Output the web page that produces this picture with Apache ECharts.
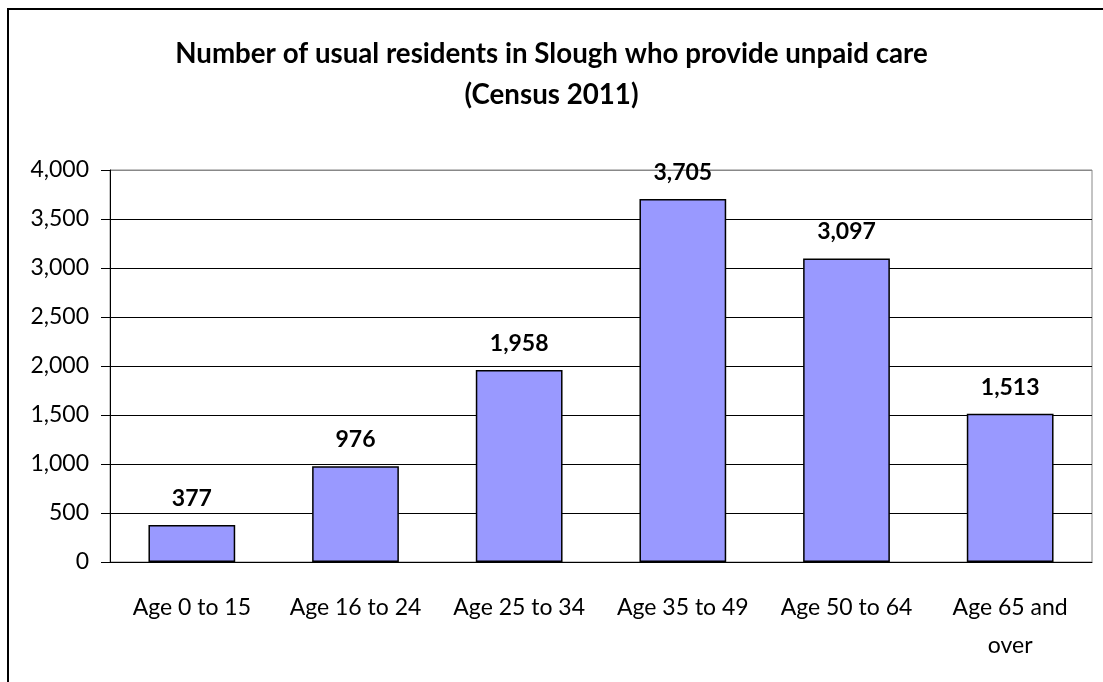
<!DOCTYPE html>
<html>
<head>
<meta charset="utf-8">
<script src="https://cdn.jsdelivr.net/npm/echarts@6/dist/echarts.min.js"></script>
<style>
html, body { margin: 0; padding: 0; background: #fff; }
#main { width: 1103px; height: 682px; }
</style>
</head>
<body>
<div id="main"></div>
<script>
var categories = ['Age 0 to 15', 'Age 16 to 24', 'Age 25 to 34', 'Age 35 to 49', 'Age 50 to 64', 'Age 65 and\nover'];
var carers = [377, 976, 1958, 3705, 3097, 1513];
var yTicks = [0, 500, 1000, 1500, 2000, 2500, 3000, 3500, 4000];

var font = 'Lato, "Open Sans", sans-serif';

var e = document.getElementById('main');
var myChart = echarts.init(e);
myChart.setOption({
	animation : false,
	textStyle : { fontFamily : font },
	graphic : [ {
		type : 'rect',
		shape : { x : 8, y : 9, width : 1200, height : 800 },
		style : { fill : 'none', stroke : '#000', lineWidth : 2 }
	} ],
	title : {
		text : 'Number of usual residents in Slough who provide unpaid care\n(Census 2011)',
		left : 'center',
		top : 29,
		textStyle : {
			fontFamily : font,
			fontSize : 27.7,
			fontWeight : 'bold',
			color : '#000',
			lineHeight : 41
		}
	},
	grid : {
		left : 110,
		right : 11,
		top : 170,
		bottom : 120,
		show : true,
		borderColor : '#888',
		borderWidth : 1
	},
	xAxis : {
		type : 'category',
		data : categories,
		axisLine : { lineStyle : { color : '#000', width : 1 } },
		axisTick : { length : 8, lineStyle : { color : '#000' } },
		axisLabel : {
			color : '#000',
			fontSize : 23,
			margin : 27,
			lineHeight : 38,
			interval : 0
		}
	},
	yAxis : {
		type : 'value',
		min : yTicks[0],
		max : yTicks[yTicks.length - 1],
		interval : 500,
		axisLine : { show : true, lineStyle : { color : '#000', width : 1 } },
		axisTick : { show : true, length : 9, lineStyle : { color : '#000' } },
		axisLabel : {
			color : '#000',
			fontSize : 23,
			margin : 21,
			formatter : function (v) { return v.toLocaleString('en-GB'); }
		},
		splitLine : {
			lineStyle : {
				color : ['#000', '#000', '#000', '#000', '#000', '#000', '#000', '#000', '#888'],
				width : 1
			}
		}
	},
	series : [ {
		type : 'bar',
		data : carers,
		barWidth : '53%',
		itemStyle : {
			color : '#9999FF',
			borderColor : '#000',
			borderWidth : 1.5
		},
		label : {
			show : true,
			position : 'top',
			distance : 15,
			fontFamily : font,
			fontSize : 23,
			fontWeight : 'bold',
			color : '#000',
			formatter : function (p) { return p.value.toLocaleString('en-GB'); }
		}
	} ]
});
</script>
</body>
</html>
